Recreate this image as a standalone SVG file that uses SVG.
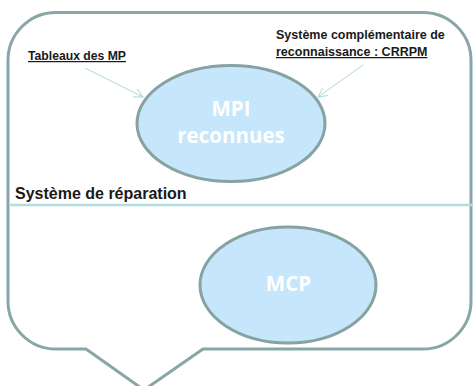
<svg xmlns="http://www.w3.org/2000/svg" width="473" height="386" viewBox="0 0 473 386">
<style>
.frame{fill:#ffffff;stroke:#88a6a7;stroke-width:3}
.divider{stroke:#b4dde1;stroke-width:2.5}
.ell{fill:#c6e6fb;stroke:#86a2a2;stroke-width:3}
.big{font-family:"Open Sans","DejaVu Sans",sans-serif;font-weight:bold;font-size:20.5px;fill:#ffffff;text-anchor:middle}
.lbl{font-family:"Liberation Sans",Arial,sans-serif;font-weight:bold;fill:#1a1a1a}
.conn{stroke:#a9d8dc;stroke-width:1;fill:none}
</style>
<defs>
<marker id="arr" markerWidth="12" markerHeight="12" refX="10" refY="6" orient="auto" markerUnits="userSpaceOnUse">
<path d="M1,1.5 L10,6 L1,10.5" fill="none" stroke="#a9d8dc" stroke-width="1"/>
</marker>
</defs>
<g id="callout">
<path class="frame" d="M56,12.5 H423 A48,48 0 0 1 471,60.5 V301 A48,48 0 0 1 423,349 H203 L144,390 L86,349 H56 A48,48 0 0 1 8,301 V60.5 A48,48 0 0 1 56,12.5 Z"/>
<line class="divider" x1="9" y1="205" x2="472" y2="205"/>
</g>
<g id="label-reparation">
<text class="lbl" x="15" y="199" font-size="16">Système de réparation</text>
</g>
<g id="label-tableaux">
<text class="lbl" x="28" y="60" font-size="12.2" text-decoration="underline">Tableaux des MP</text>
</g>
<g id="label-crrpm">
<text class="lbl" x="276" y="38.5" font-size="12.5">Système complémentaire de</text>
<text class="lbl" x="276" y="56" font-size="12.5" text-decoration="underline">reconnaissance : CRRPM</text>
</g>
<g id="node-mpi">
<ellipse class="ell" cx="231" cy="123.5" rx="94" ry="58"/>
<text class="big" x="231" y="116">MPI</text>
<text class="big" x="231" y="143">reconnues</text>
</g>
<g id="node-mcp">
<ellipse class="ell" cx="288" cy="285" rx="88" ry="58"/>
<text class="big" x="288.5" y="290.5">MCP</text>
</g>
<g id="connectors">
<line class="conn" x1="85" y1="68" x2="143" y2="97" marker-end="url(#arr)"/>
<line class="conn" x1="363" y1="65" x2="318" y2="97" marker-end="url(#arr)"/>
</g>
</svg>
